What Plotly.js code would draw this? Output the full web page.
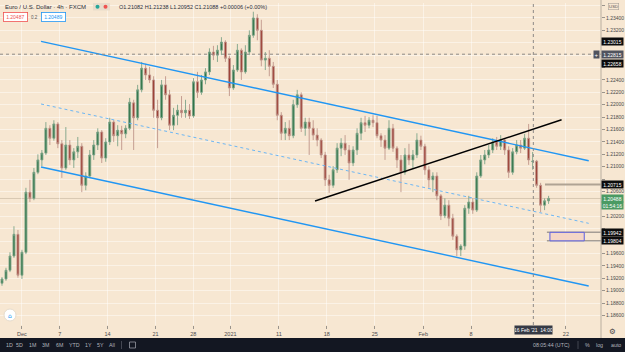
<!DOCTYPE html>
<html><head><meta charset="utf-8">
<script src="https://cdn.plot.ly/plotly-3.0.1.min.js"></script>
<style>html,body{margin:0;padding:0;background:#f7e7d2;}#chart{width:625px;height:352px;}</style>
</head><body><div id="chart"></div>
<script>
// EUR/USD candles (aggregated), prices
const openP = [
1.1912,1.1919,1.1933,1.1956,1.1991,1.1925,1.1962,1.2059,1.2049,1.2091,
1.2111,1.2122,1.2162,1.2146,1.2169,1.2137,1.2098,1.2135,1.2111,1.2124,
1.2133,1.2070,1.2085,1.2119,1.2135,1.2156,1.2114,1.2140,1.2172,1.2150,
1.2159,1.2153,1.2162,1.2203,1.2179,1.2224,1.2259,1.2248,1.2240,1.2191,
1.2179,1.2232,1.2216,1.2167,1.2183,1.2191,1.2187,1.2191,1.2182,1.2237,
1.2220,1.2240,1.2253,1.2285,1.2280,1.2288,1.2301,1.2275,1.2227,1.2256,
1.2288,1.2253,1.2285,1.2312,1.2340,1.2320,1.2272,1.2275,1.2262,1.2233,
1.2183,1.2154,1.2162,1.2150,1.2200,1.2216,1.2162,1.2172,1.2162,1.2151,
1.2143,1.2119,1.2079,1.2070,1.2095,1.2130,1.2138,1.2127,1.2106,1.2127,
1.2154,1.2171,1.2167,1.2175,1.2171,1.2150,1.2143,1.2130,1.2162,1.2130,
1.2111,1.2091,1.2119,1.2111,1.2119,1.2143,1.2133,1.2095,1.2079,1.2085,
1.2053,1.2021,1.2038,1.2017,1.1988,1.1966,1.1972,1.2033,1.2043,1.2030,
1.2085,1.2111,1.2119,1.2127,1.2140,1.2133,1.2143,1.2127,1.2091,1.2124,
1.2135,1.2130,1.2146,1.21082,1.2109,1.2070,1.2038,1.2045];
const highP = [
1.1922,1.1937,1.1962,1.2004,1.1998,1.1966,1.2066,1.2079,1.2098,1.2120,
1.2127,1.2172,1.2167,1.2175,1.2172,1.2143,1.2164,1.2143,1.2130,1.2148,
1.2138,1.2091,1.2127,1.2143,1.2162,1.2159,1.2146,1.2179,1.2175,1.2167,
1.2166,1.2167,1.2211,1.2208,1.2232,1.2269,1.2266,1.2261,1.2246,1.2208,
1.2240,1.2246,1.2224,1.2195,1.2200,1.2214,1.2208,1.2201,1.2243,1.2253,
1.2248,1.2259,1.2291,1.2295,1.2296,1.2309,1.2304,1.2279,1.2264,1.2298,
1.2291,1.2296,1.2320,1.2350,1.2346,1.2337,1.2285,1.2288,1.2269,1.2240,
1.2188,1.2172,1.2175,1.2208,1.2224,1.2220,1.2179,1.2179,1.2175,1.2162,
1.2146,1.2124,1.2087,1.2101,1.2138,1.2146,1.2151,1.2135,1.2133,1.2162,
1.2179,1.2182,1.2180,1.2183,1.2182,1.2154,1.2151,1.2175,1.2169,1.2133,
1.2119,1.2130,1.2137,1.2127,1.2154,1.2150,1.2137,1.2101,1.2091,1.2091,
1.2056,1.2049,1.2046,1.2024,1.1991,1.1975,1.2038,1.2053,1.2049,1.2091,
1.2119,1.2127,1.2135,1.2146,1.2148,1.2151,1.2146,1.2133,1.2130,1.2143,
1.2143,1.2153,1.2169,1.21238,1.2111,1.2074,1.2049,1.2053];
const lowP = [
1.1908,1.1916,1.1930,1.1953,1.1921,1.1919,1.1959,1.2043,1.2046,1.2088,
1.2101,1.2119,1.2135,1.2142,1.2130,1.2082,1.2095,1.2103,1.2098,1.2114,
1.2059,1.2062,1.2082,1.2111,1.2127,1.2106,1.2108,1.2135,1.2140,1.2133,
1.2127,1.2146,1.2159,1.2127,1.2175,1.2220,1.2240,1.2235,1.2179,1.2130,
1.2175,1.2208,1.2159,1.2159,1.2167,1.2179,1.2179,1.2177,1.2179,1.2211,
1.2216,1.2233,1.2248,1.2272,1.2269,1.2280,1.2269,1.2214,1.2224,1.2253,
1.2240,1.2250,1.2280,1.2308,1.2304,1.2262,1.2256,1.2246,1.2227,1.2175,
1.2143,1.2143,1.2143,1.2146,1.2195,1.2156,1.2150,1.2119,1.2143,1.2133,
1.2114,1.2069,1.2058,1.2066,1.2090,1.2117,1.2119,1.2079,1.2101,1.2119,
1.2143,1.2156,1.2162,1.2164,1.2146,1.2132,1.2111,1.2127,1.2124,1.2098,
1.2059,1.2087,1.2103,1.2098,1.2114,1.2127,1.2087,1.2066,1.2059,1.2046,
1.2014,1.2017,1.2004,1.1982,1.1956,1.1956,1.1966,1.2024,1.2024,1.2027,
1.2082,1.2104,1.2114,1.2122,1.2127,1.2127,1.2119,1.2082,1.2087,1.2120,
1.2122,1.2127,1.2103,1.20952,1.2066,1.2027,1.2030,1.2040];
const closeP = [
1.1919,1.1933,1.1956,1.1991,1.1925,1.1962,1.2059,1.2049,1.2091,1.2111,
1.2122,1.2162,1.2146,1.2169,1.2137,1.2098,1.2135,1.2111,1.2124,1.2133,
1.2070,1.2085,1.2119,1.2135,1.2156,1.2114,1.2140,1.2172,1.2150,1.2159,
1.2153,1.2162,1.2204,1.2179,1.2224,1.2259,1.2248,1.2240,1.2191,1.2179,
1.2232,1.2216,1.2167,1.2183,1.2191,1.2187,1.2191,1.2182,1.2237,1.2220,
1.2240,1.2253,1.2285,1.2280,1.2288,1.2301,1.2275,1.2227,1.2256,1.2288,
1.2253,1.2285,1.2312,1.2340,1.2320,1.2272,1.2275,1.2262,1.2233,1.2183,
1.2154,1.2162,1.2150,1.2200,1.2216,1.2162,1.2172,1.2162,1.2151,1.2143,
1.2119,1.2079,1.2070,1.2095,1.2130,1.2138,1.2127,1.2106,1.2127,1.2154,
1.2171,1.2167,1.2175,1.2171,1.2150,1.2143,1.2130,1.2162,1.2130,1.2111,
1.2091,1.2119,1.2111,1.2119,1.2143,1.2133,1.2095,1.2079,1.2085,1.2053,
1.2021,1.2038,1.2017,1.1988,1.1966,1.1972,1.2033,1.2043,1.2030,1.2085,
1.2111,1.2119,1.2127,1.2140,1.2133,1.2143,1.2127,1.2091,1.2124,1.2135,
1.2130,1.2146,1.2111,1.21088,1.2070,1.2038,1.2045,1.20488];

// time axis: positions in 4h-bar units, labels ('15' sits under the crosshair label)
const timeTickPos = [13.7,37.5,67.4,97.4,121.1,144.4,174.8,204.8,234.8,265.2,295.2,354.6];
const timeTickText = ['Dec','7','14','21','28','2021','11','18','25','Feb','8','22'];
// price axis ticks (labels covered by price tags are left blank, as on the reference)
const priceTicks = [1.186,1.188,1.190,1.192,1.194,1.196,1.198,1.200,1.202,1.204,1.206,1.208,1.210,1.212,1.214,1.216,1.218,1.220,1.222,1.224,1.226,1.228,1.230,1.232,1.234,1.236];
const hiddenPriceTicks = [1.198,1.200,1.204,1.208,1.226,1.228,1.230,1.236];
// drawings (x in 4h-bar units, y in price)
const upperLine = {x:[25.7,368.9], y:[1.23023,1.21097]};
const lowerLine = {x:[25.7,368.9], y:[1.20995,1.19076]};
const midLine = {x:[25.7,368.9], y:[1.22012,1.20087]};
const blackLine = {x:[197.4,351.9], y:[1.20447,1.21758]};
const levelLine = 1.20715;
const boxTop = 1.19942, boxBottom = 1.19804;
const crossPrice = 1.22815, crossX = 334.2;
const lastPrice = 1.20488;
const axisLabels = [
  {t:'1.23015', p:1.23015, bg:'#0c0c0c'},
  {t:'1.22815', p:1.22815, bg:'#50535e'},
  {t:'1.22658', p:1.22658, bg:'#0c0c0c'},
  {t:'1.20715', p:1.20715, bg:'#0c0c0c'},
  {t:'1.20488', p:1.20488, bg:'#4b9a63'},
  {t:'01:54:16', p:1.20378, bg:'#4b9a63'},
  {t:'1.19942', p:1.19942, bg:'#0c0c0c'},
  {t:'1.19804', p:1.19804, bg:'#0c0c0c'}
];

const barStep = 2.5; // aggregated bar width in 4h units
const xs = openP.map((_, i) => 1.25 + barStep * i);

const FONT = 'Liberation Sans, Arial, sans-serif';
const trace = {
  type: 'candlestick', x: xs, open: openP, high: highP, low: lowP, close: closeP,
  increasing: {line: {color: '#7da488', width: 0.9}, fillcolor: '#2f7447'},
  decreasing: {line: {color: '#c0958a', width: 0.9}, fillcolor: '#9a3a30'},
  whiskerwidth: 0, hoverinfo: 'skip', showlegend: false
};

const PW = 601, PT = 3, PB = 325, PH = PB - PT;
const px2paperX = px => px / PW;
const py2paperY = py => 1 - (py - PT) / PH;

const shapes = [
  {type:'line', xref:'paper', x0:0, x1:1, yref:'y', y0:lastPrice, y1:lastPrice, line:{color:'rgba(110,90,70,0.22)', width:1}, layer:'below'},
  {type:'line', x0:upperLine.x[0], x1:upperLine.x[1], y0:upperLine.y[0], y1:upperLine.y[1], line:{color:'#2196f3', width:1.4}},
  {type:'line', x0:lowerLine.x[0], x1:lowerLine.x[1], y0:lowerLine.y[0], y1:lowerLine.y[1], line:{color:'#2196f3', width:1.4}},
  {type:'line', x0:midLine.x[0], x1:midLine.x[1], y0:midLine.y[0], y1:midLine.y[1], line:{color:'#6cb6f4', width:1, dash:'3px,3px'}},
  {type:'line', x0:blackLine.x[0], x1:blackLine.x[1], y0:blackLine.y[0], y1:blackLine.y[1], line:{color:'#000000', width:1.4}},
  {type:'line', x0:341.5, x1:376.6, y0:levelLine, y1:levelLine, line:{color:'#b0a393', width:2}},
  {type:'line', x0:342.7, x1:376.6, y0:boxTop, y1:boxTop, line:{color:'#a59d95', width:1.5}},
  {type:'line', x0:342.7, x1:376.6, y0:boxBottom, y1:boxBottom, line:{color:'#a59d95', width:1.5}},
  {type:'rect', x0:344.6, x1:366.1, y0:boxBottom, y1:boxTop, fillcolor:'#f4d6c6', line:{color:'#5b5fe0', width:1}},
  {type:'line', xref:'paper', x0:0, x1:1, y0:crossPrice, y1:crossPrice, line:{color:'#8d8a86', width:1, dash:'dot'}},
  {type:'line', x0:crossX, x1:crossX, yref:'paper', y0:0, y1:1, line:{color:'#8d8a86', width:1, dash:'dot'}},
  {type:'line', xref:'paper', x0:1, x1:1, yref:'paper', y0:py2paperY(338), y1:py2paperY(0), line:{color:'#b9ae9f', width:1}},
  {type:'rect', xref:'paper', x0:px2paperX(-2), x1:px2paperX(628), yref:'paper', y0:py2paperY(338), y1:py2paperY(354), fillcolor:'#131722', line:{width:0}},
  {type:'line', xref:'paper', x0:px2paperX(121.5), x1:px2paperX(121.5), yref:'paper', y0:py2paperY(341), y1:py2paperY(349), line:{color:'#434651', width:1}},
  {type:'line', xref:'paper', x0:px2paperX(578), x1:px2paperX(578), yref:'paper', y0:py2paperY(341), y1:py2paperY(349), line:{color:'#434651', width:1}},
  {type:'rect', xref:'paper', x0:px2paperX(129.5), x1:px2paperX(135.5), yref:'paper', y0:py2paperY(342), y1:py2paperY(348), line:{color:'#9598a1', width:0.8}},
  {type:'rect', xref:'paper', x0:px2paperX(93), x1:px2paperX(110), yref:'paper', y0:py2paperY(3), y1:py2paperY(10.5), fillcolor:'#e9dccb', line:{width:0}},
  {type:'circle', xref:'paper', x0:px2paperX(95.5), x1:px2paperX(99.5), yref:'paper', y0:py2paperY(4.8), y1:py2paperY(8.8), fillcolor:'#26a69a', line:{width:0}},
  {type:'circle', xref:'paper', x0:px2paperX(103.5), x1:px2paperX(107.5), yref:'paper', y0:py2paperY(4.8), y1:py2paperY(8.8), fillcolor:'#ef5350', line:{width:0}},
  {type:'circle', xref:'paper', x0:px2paperX(4), x1:px2paperX(16), yref:'paper', y0:py2paperY(309), y1:py2paperY(321), fillcolor:'#ffffff', line:{color:'#e6dccd', width:1}}
];

const annotations = [];
axisLabels.forEach(l => {
  annotations.push({xref:'paper', x:1, xanchor:'left', yref:'y', y:l.p, yanchor:'middle', text:l.t, showarrow:false,
    bgcolor:l.bg, font:{family:FONT, size:5, color:'#ffffff'}, width:21, height:7, borderpad:0, align:'center'});
});
annotations.push({xref:'paper', x:px2paperX(596.3), xanchor:'center', yref:'y', y:crossPrice, yanchor:'middle', text:'+', showarrow:false,
  bgcolor:'#50535e', font:{family:FONT, size:6, color:'#ffffff'}, width:5, height:7, borderpad:0});
annotations.push({xref:'paper', x:px2paperX(613), xanchor:'center', yref:'paper', y:py2paperY(6.5), yanchor:'middle', text:'USD', showarrow:false,
  bgcolor:'#f7e7d2', bordercolor:'#a8a29a', borderwidth:0.6, font:{family:FONT, size:4.3, color:'#555'}, borderpad:0.5});
annotations.push({x:crossX, xanchor:'center', yref:'paper', y:py2paperY(330), yanchor:'middle', text:"16 Feb '21&nbsp;&nbsp;14:00", showarrow:false,
  bgcolor:'#363a45', font:{family:FONT, size:5, color:'#ffffff'}, width:37, height:8, borderpad:0});
annotations.push({xref:'paper', x:px2paperX(2.5), xanchor:'left', yref:'paper', y:py2paperY(6.8), yanchor:'middle', text:'Euro / U.S. Dollar · 4h · FXCM', showarrow:false,
  font:{family:FONT, size:6, color:'#2a2e39'}});
annotations.push({xref:'paper', x:px2paperX(117), xanchor:'left', yref:'paper', y:py2paperY(6.8), yanchor:'middle',
  text:'O1.21082 H1.21238 L1.20952 C1.21088 +0.00006 (+0.00%)', showarrow:false, font:{family:FONT, size:5.5, color:'#2a2e39'}});
annotations.push({xref:'paper', x:px2paperX(15), xanchor:'center', yref:'paper', y:py2paperY(17.2), yanchor:'middle', text:'1.20487', showarrow:false,
  bgcolor:'#ffffff', bordercolor:'#ef5350', borderwidth:0.8, font:{family:FONT, size:5, color:'#ef5350'}, width:22, height:7, borderpad:0.5});
annotations.push({xref:'paper', x:px2paperX(34.5), xanchor:'center', yref:'paper', y:py2paperY(17.2), yanchor:'middle', text:'0.2', showarrow:false,
  font:{family:FONT, size:4.5, color:'#555'}});
annotations.push({xref:'paper', x:px2paperX(53), xanchor:'center', yref:'paper', y:py2paperY(17.2), yanchor:'middle', text:'1.20489', showarrow:false,
  bgcolor:'#ffffff', bordercolor:'#2196f3', borderwidth:0.8, font:{family:FONT, size:5, color:'#2196f3'}, width:22, height:7, borderpad:0.5});
annotations.push({xref:'paper', x:px2paperX(10), xanchor:'center', yref:'paper', y:py2paperY(315.5), yanchor:'middle', text:'⌂', showarrow:false,
  font:{family:'DejaVu Sans', size:6, color:'#2196f3'}});
annotations.push({xref:'paper', x:px2paperX(612.5), xanchor:'center', yref:'paper', y:py2paperY(331), yanchor:'middle', text:'⚙', showarrow:false,
  font:{family:'DejaVu Sans', size:7.5, color:'#4a4a4a'}});
const toolbarItems = [['1D',9.5],['5D',19.5],['1M',32],['3M',45],['6M',59],['YTD',74],['1Y',88.5],['5Y',100],['All',112],
  ['08:05:44 (UTC)',551],['%',587.5],['log',599],['auto',615.5]];
toolbarItems.forEach(([t, x]) => annotations.push({xref:'paper', x:px2paperX(x), xanchor:'center', yref:'paper', y:py2paperY(345), yanchor:'middle',
  text:t, showarrow:false, font:{family:FONT, size:5.3, color:'#b2b5be'}}));

const layout = {
  width: 625, height: 352,
  margin: {l:0, r:24, t:PT, b:352-PB, pad:0},
  paper_bgcolor: '#f7e7d2', plot_bgcolor: '#f7e7d2',
  showlegend: false,
  xaxis: {range:[0, 376.6], tickmode:'array', tickvals:timeTickPos, ticktext:timeTickText,
    ticks:'outside', ticklen:3, tickcolor:'#9a948c', tickwidth:1,
    showgrid:true, gridcolor:'rgba(255,255,255,0.45)', gridwidth:1, zeroline:false, showline:false,
    tickfont:{family:FONT, size:5.5, color:'#4a4a4a'}, rangeslider:{visible:false}, fixedrange:true},
  yaxis: {range:[1.18447, 1.23641], side:'right', tickmode:'array', tickvals:priceTicks,
    ticktext:priceTicks.map(v => hiddenPriceTicks.some(h => Math.abs(h - v) < 1e-9) ? '' : v.toFixed(5)),
    ticks:'outside', ticklen:3, tickcolor:'#9a948c',
    showgrid:true, gridcolor:'rgba(255,255,255,0.45)', gridwidth:1, zeroline:false, showline:false,
    tickfont:{family:FONT, size:5, color:'#4a4a4a'}, fixedrange:true},
  shapes: shapes,
  annotations: annotations
};

Plotly.newPlot('chart', [trace], layout, {staticPlot:true, displayModeBar:false});
</script>
</body></html>
